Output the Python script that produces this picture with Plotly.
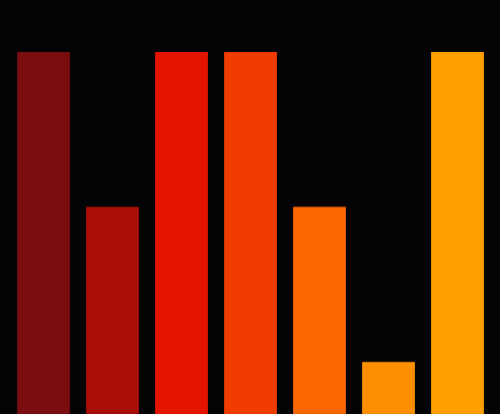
import plotly.graph_objects as go

# bar data
categories = ["A", "B", "C", "D", "E", "F", "G"]
values = [7, 4, 7, 7, 4, 1, 7]
colors = ["#7b0c10", "#ab0f09", "#e51400", "#f03c00", "#fa6600", "#fd9000", "#ffa000"]
edges = ["#6a0a0d", "#950d08", "#cc1200", "#d83500", "#e05b00", "#e38100", "#e69000"]

fig = go.Figure(
    go.Bar(
        x=categories,
        y=values,
        marker=dict(color=colors, line=dict(color=edges, width=1)),
    )
)

fig.update_layout(
    width=500,
    height=414,
    margin=dict(l=9, r=8, t=52, b=0),
    paper_bgcolor="#040406",
    plot_bgcolor="#040406",
    bargap=0.246,
    showlegend=False,
)
fig.update_xaxes(visible=False)
fig.update_yaxes(visible=False, range=[0, 7])

# drop the page's default body margin so the chart fills the window
fig.write_html(
    "out.html",
    config={"displayModeBar": False},
    post_script="document.body.style.margin='0';document.body.style.background='#040406';",
)
